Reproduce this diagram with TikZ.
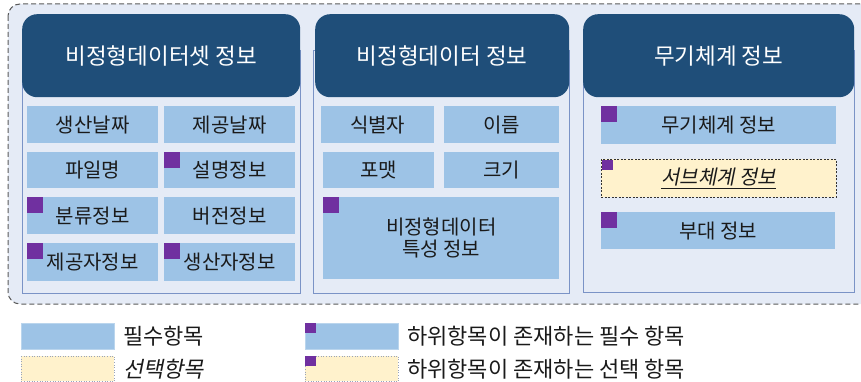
\documentclass[tikz,border=0pt]{standalone}
\usepackage{fontspec}
\setmainfont{Noto Sans CJK KR}
\newfontfamily\krslant[FakeSlant=0.2]{Noto Sans CJK KR}
\definecolor{bgfill}{HTML}{E5EBF6}
\definecolor{hdblue}{HTML}{1F4E79}
\definecolor{itblue}{HTML}{9DC3E6}
\definecolor{itcream}{HTML}{FFF2CC}
\definecolor{mkpurple}{HTML}{7030A0}
\definecolor{bodyline}{HTML}{7A93C6}
\definecolor{outline}{HTML}{5A5A5A}
\definecolor{txt}{HTML}{1A1A1A}
\tikzset{
  hdr/.style={rectangle, rounded corners=15pt, fill=hdblue, text=white, inner sep=0pt, anchor=north west, font=\fontsize{22.5}{26}\selectfont},
  bodybox/.style={rectangle, draw=bodyline, line width=1pt, fill=bgfill, inner sep=0pt, anchor=north west},
  itembox/.style={rectangle, fill=itblue, inner sep=0pt, anchor=north west, text=txt, align=center, font=\fontsize{20}{22}\selectfont},
  optbox/.style={rectangle, fill=itcream, draw=black!80, dashed, dash pattern=on 2pt off 1.5pt, line width=0.8pt, inner sep=0pt, anchor=north west, text=txt, font=\fontsize{20}{22}\selectfont},
  submk/.style={rectangle, fill=mkpurple, inner sep=0pt, anchor=north west, minimum width=16pt, minimum height=16pt},
  smallmk/.style={rectangle, fill=mkpurple, inner sep=0pt, anchor=north west, minimum width=11pt, minimum height=10pt},
  legblue/.style={rectangle, fill=itblue, draw=itblue!70!white, line width=0.4pt, inner sep=0pt, anchor=north west, minimum width=93pt, minimum height=26pt},
  legcream/.style={rectangle, fill=itcream, draw=black!30!bodyline!60, dotted, line width=0.6pt, inner sep=0pt, anchor=north west, minimum width=93pt, minimum height=25pt},
  legtext/.style={anchor=west, inner sep=0pt, text=txt, font=\fontsize{22}{24}\selectfont},
}
\begin{document}
\begin{tikzpicture}[x=1pt, y=-1pt]
\useasboundingbox (0,0) rectangle (861,382);
\clip (0,0) rectangle (861,382);
% outer dashed frame
\draw[draw=outline, fill=bgfill, dashed, dash pattern=on 5pt off 3pt, line width=1pt, rounded corners=12pt] (8,4) rectangle (880,304);

% panel 1
\node[bodybox, minimum width=278pt, minimum height=243pt] (p1) at (22,50) {};
\node[hdr, minimum width=278pt, minimum height=83pt] (h1) at (22,14) {비정형데이터셋 정보};
\node[itembox, minimum width=131pt, minimum height=37pt] (a1) at (27,106) {생산날짜};
\node[itembox, minimum width=131pt, minimum height=37pt] (a2) at (164,106) {제공날짜};
\node[itembox, minimum width=131pt, minimum height=36pt] (a3) at (27,152) {파일명};
\node[itembox, minimum width=131pt, minimum height=36pt] (a4) at (164,152) {설명정보};
\node[itembox, minimum width=131pt, minimum height=37pt] (a5) at (27,197) {분류정보};
\node[itembox, minimum width=131pt, minimum height=37pt] (a6) at (164,197) {버전정보};
\node[itembox, minimum width=131pt, minimum height=38pt] (a7) at (27,243) {제공자정보};
\node[itembox, minimum width=131pt, minimum height=38pt] (a8) at (164,243) {생산자정보};
\node[submk] (m4) at (a4.north west) {};
\node[submk] (m5) at (a5.north west) {};
\node[submk] (m7) at (a7.north west) {};
\node[submk] (m8) at (a8.north west) {};

% panel 2
\node[bodybox, minimum width=256pt, minimum height=243pt] (p2) at (313,50) {};
\node[hdr, minimum width=254pt, minimum height=83pt] (h2) at (315,14) {비정형데이터 정보};
\node[itembox, minimum width=113pt, minimum height=37pt] (b1) at (321,106) {식별자};
\node[itembox, minimum width=115pt, minimum height=37pt] (b2) at (444,106) {이름};
\node[itembox, minimum width=111pt, minimum height=36pt] (b3) at (323,152) {포맷};
\node[itembox, minimum width=115pt, minimum height=36pt] (b4) at (444,152) {크기};
\node[itembox, minimum width=236pt, minimum height=82pt] (b5) at (323,197) {비정형데이터\\특성 정보};
\node[submk] (m9) at (b5.north west) {};

% panel 3
\node[bodybox, minimum width=271pt, minimum height=242pt] (p3) at (583,50) {};
\node[hdr, minimum width=271pt, minimum height=83pt] (h3) at (583,14) {무기체계 정보};
\node[itembox, minimum width=235pt, minimum height=38pt] (c1) at (601,106) {무기체계 정보};
\node[optbox, minimum width=235pt, minimum height=38pt] (c2) at (601,159) {\krslant\underline{서브체계 정보}};
\node[itembox, minimum width=234pt, minimum height=37pt] (c3) at (601,212) {부대 정보};
\node[submk] (m10) at (c1.north west) {};
\node[smallmk] (m11) at ([shift={(0.5,0.5)}]c2.north west) {};
\node[submk] (m12) at (c3.north west) {};

% legend
\node[legblue] (l1) at (21,323) {};
\node[legcream] (l2) at (21,356) {};
\node[legtext] (t1) at (123,336) {필수항목};
\node[legtext] (t2) at (123,369) {\krslant 선택항목};
\node[legblue] (l3) at (305,323) {};
\node[legcream] (l4) at (305,356) {};
\node[smallmk] (lm3) at (l3.north west) {};
\node[smallmk] (lm4) at (l4.north west) {};
\node[legtext] (t3) at (407,336) {하위항목이 존재하는 필수 항목};
\node[legtext] (t4) at (407,369) {하위항목이 존재하는 선택 항목};
\end{tikzpicture}
\end{document}
